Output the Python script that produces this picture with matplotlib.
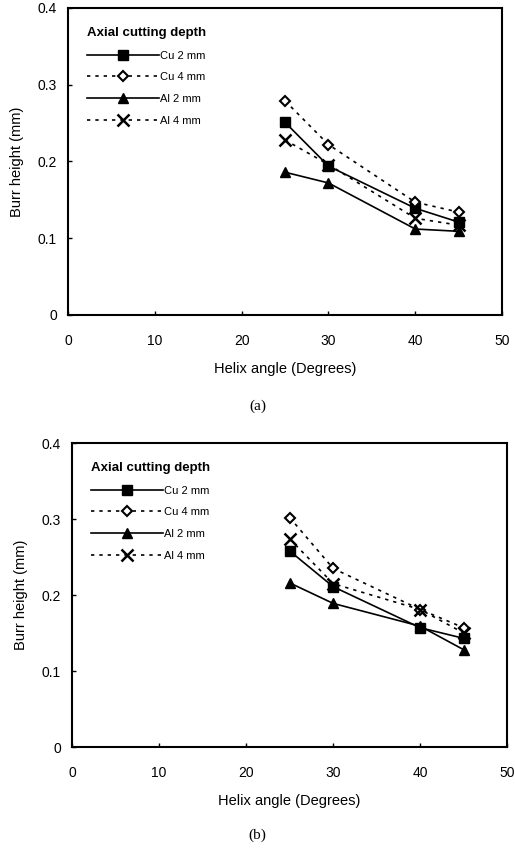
import matplotlib
matplotlib.use("Agg")
import matplotlib.pyplot as plt

plt.rcParams['font.family'] = ['Liberation Sans', 'DejaVu Sans']

helix_angle = [25, 30, 40, 45]
series_labels = ["Cu 2 mm", "Cu 4 mm", "Al 2 mm", "Al 4 mm"]

# Panel (a)
a_cu2 = [0.251, 0.194, 0.139, 0.121]
a_cu4 = [0.279, 0.222, 0.147, 0.134]
a_al2 = [0.186, 0.172, 0.112, 0.109]
a_al4 = [0.228, 0.196, 0.126, 0.117]

# Panel (b)
b_cu2 = [0.258, 0.211, 0.157, 0.143]
b_cu4 = [0.302, 0.235, 0.181, 0.157]
b_al2 = [0.216, 0.189, 0.159, 0.128]
b_al4 = [0.274, 0.215, 0.181, 0.150]

x_ticks = [0, 10, 20, 30, 40, 50]
y_ticks = [0, 0.1, 0.2, 0.3, 0.4]
y_tick_labels = ["0", "0.1", "0.2", "0.3", "0.4"]

styles = [
    dict(linestyle='-', marker='s', markersize=7, mfc='black', mec='black'),
    dict(linestyle=(0, (2, 3)), marker='D', markersize=5, mfc='white', mec='black', mew=1.5),
    dict(linestyle='-', marker='^', markersize=7, mfc='black', mec='black'),
    dict(linestyle=(0, (2, 3)), marker='x', markersize=8, mfc='black', mec='black', mew=1.8),
]

fig = plt.figure(figsize=(5.15, 8.49), dpi=100)
ax_a = fig.add_axes([0.132, 0.629, 0.843, 0.3616])
ax_b = fig.add_axes([0.140, 0.1201, 0.845, 0.358])

for ax, data, tag, ty in [(ax_a, [a_cu2, a_cu4, a_al2, a_al4], "(a)", 0.514),
                          (ax_b, [b_cu2, b_cu4, b_al2, b_al4], "(b)", 0.008)]:
    for vals, lab, st in zip(data, series_labels, styles):
        ax.plot(helix_angle, vals, color='black', lw=1.2, label=lab, **st)
    ax.set_xlim(0, 50)
    ax.set_ylim(0, 0.4)
    ax.set_xticks(x_ticks)
    ax.set_yticks(y_ticks)
    ax.set_yticklabels(y_tick_labels)
    ax.tick_params(direction='in', length=3, width=1, labelsize=10, pad=8)
    ax.tick_params(axis='x', pad=14)
    for sp in ax.spines.values():
        sp.set_linewidth(1.5)
    ax.set_xlabel("Helix angle (Degrees)", fontsize=10.5, labelpad=10)
    ax.set_ylabel("Burr height (mm)", fontsize=10.5, labelpad=10)
    leg = ax.legend(loc='upper left', frameon=False, title="Axial cutting depth",
                    fontsize=8, title_fontsize=9.5, handlelength=6.5, numpoints=1,
                    handletextpad=0.1, labelspacing=1.05, borderaxespad=1.3,
                    alignment='left')
    leg.get_title().set_fontweight('bold')
    fig.text(0.5, ty, tag, ha='center', va='bottom', fontsize=11,
             family=['Liberation Serif', 'DejaVu Serif'])

fig.savefig("out.png", dpi=100)
